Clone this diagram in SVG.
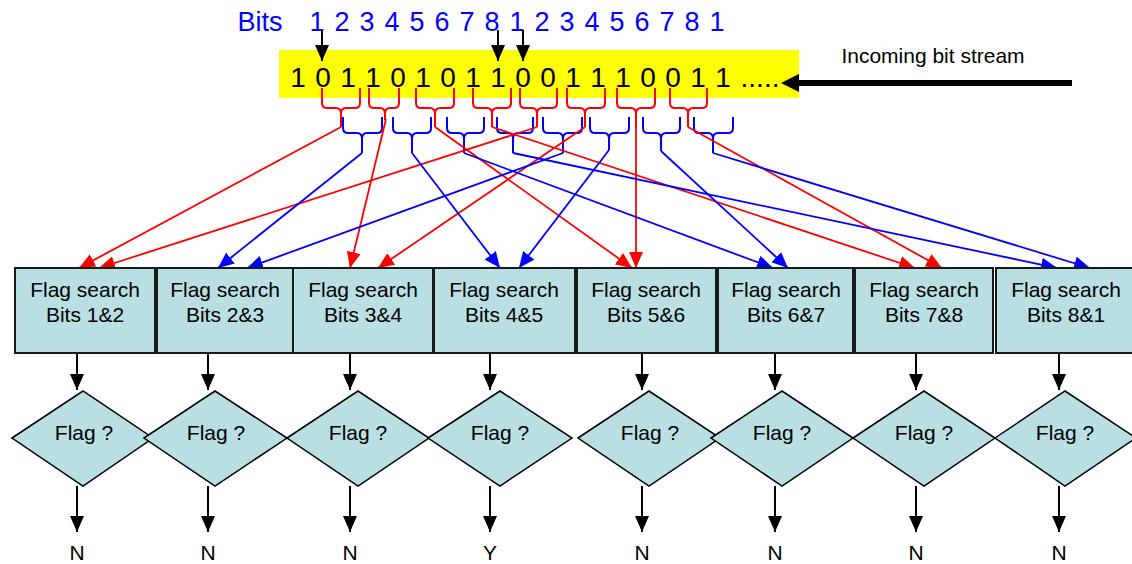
<svg xmlns="http://www.w3.org/2000/svg" width="1132" height="564" viewBox="0 0 1132 564">
<style>
.txt{font-family:"Liberation Sans",Arial,sans-serif;text-anchor:middle;fill:#000}
.bt{font-size:21px}
.dg{font-size:28px}
.lb{font-size:27px;fill:#00f}
.bx{fill:#b9dfe3;stroke:#1a1a1a;stroke-width:2}
.dm{fill:#b9dfe3;stroke:#000;stroke-width:1.5}
.rb{fill:none;stroke:#f00;stroke-width:2}
.bb{fill:none;stroke:#00f;stroke-width:2}
.rl{fill:none;stroke:#f00;stroke-width:1.8;marker-end:url(#ar)}
.bl{fill:none;stroke:#00f;stroke-width:1.8;marker-end:url(#ab)}
.kl{fill:none;stroke:#000;stroke-width:2;marker-end:url(#ak)}
</style>
<defs>
<marker id="ar" markerUnits="userSpaceOnUse" markerWidth="17" markerHeight="14" refX="16" refY="7" orient="auto"><path d="M0,0 L16,7 L0,14 z" fill="#f00"/></marker>
<marker id="ab" markerUnits="userSpaceOnUse" markerWidth="17" markerHeight="14" refX="16" refY="7" orient="auto"><path d="M0,0 L16,7 L0,14 z" fill="#00f"/></marker>
<marker id="ak" markerUnits="userSpaceOnUse" markerWidth="17" markerHeight="14" refX="16" refY="7" orient="auto"><path d="M0,0 L16,7 L0,14 z" fill="#000"/></marker>
</defs>

<g id="bitstream">
<rect x="279" y="50" width="520" height="48" fill="#ffff00"/>
<text class="txt lb" x="260" y="31">Bits</text>
<g class="txt lb">
<text x="317" y="31">1</text><text x="342" y="31">2</text><text x="367" y="31">3</text><text x="392" y="31">4</text><text x="417" y="31">5</text><text x="442" y="31">6</text><text x="467" y="31">7</text><text x="492" y="31">8</text><text x="517" y="31">1</text><text x="542" y="31">2</text><text x="567" y="31">3</text><text x="592" y="31">4</text><text x="617" y="31">5</text><text x="642" y="31">6</text><text x="667" y="31">7</text><text x="692" y="31">8</text><text x="717" y="31">1</text>
</g>
<g class="txt dg">
<text x="298" y="87">1</text><text x="323" y="87">0</text><text x="348" y="87">1</text><text x="373" y="87">1</text><text x="398" y="87">0</text><text x="423" y="87">1</text><text x="448" y="87">0</text><text x="473" y="87">1</text><text x="498" y="87">1</text><text x="523" y="87">0</text><text x="548" y="87">0</text><text x="573" y="87">1</text><text x="598" y="87">1</text><text x="623" y="87">1</text><text x="648" y="87">0</text><text x="673" y="87">0</text><text x="698" y="87">1</text><text x="723" y="87">1</text>
<text x="760" y="87">.....</text>
</g>
<line class="kl" x1="322" y1="30" x2="322" y2="61"/>
<line class="kl" x1="498" y1="30" x2="498" y2="61"/>
<line class="kl" x1="523" y1="30" x2="523" y2="61"/>
<line x1="1072" y1="83" x2="796" y2="83" stroke="#000" stroke-width="6"/>
<path d="M781,83 L799,74 L799,92 z" fill="#000"/>
<text class="txt bt" x="933" y="63">Incoming bit stream</text>
</g>

<g id="braces">
<path class="rb" d="M322,88 V103 Q322,108 327,108 H336 Q341,108 341,114 V127 M360,88 V103 Q360,108 355,108 H346 Q341,108 341,114"/>
<path class="rb" d="M369,88 V103 Q369,108 374,108 H380 Q385,108 385,114 V120 M399,88 V103 Q399,108 394,108 H390 Q385,108 385,114"/>
<path class="rb" d="M416,88 V103 Q416,108 421,108 H430 Q435,108 435,114 V127 M454,88 V103 Q454,108 449,108 H440 Q435,108 435,114"/>
<path class="rb" d="M473,88 V103 Q473,108 478,108 H487 Q492,108 492,114 V127 M511,88 V103 Q511,108 506,108 H497 Q492,108 492,114"/>
<path class="rb" d="M520,88 V103 Q520,108 525,108 H532 Q537,108 537,114 V127 M557,88 V103 Q557,108 552,108 H542 Q537,108 537,114"/>
<path class="rb" d="M567,88 V103 Q567,108 572,108 H580 Q585,108 585,114 V127 M605,88 V103 Q605,108 600,108 H590 Q585,108 585,114"/>
<path class="rb" d="M617,88 V103 Q617,108 622,108 H631 Q636,108 636,114 V127 M655,88 V103 Q655,108 650,108 H641 Q636,108 636,114"/>
<path class="rb" d="M670,88 V103 Q670,108 675,108 H683 Q688,108 688,114 V127 M707,88 V103 Q707,108 702,108 H693 Q688,108 688,114"/>
<path class="bb" d="M343,117 V128 Q343,133 348,133 H357 Q362,133 362,139 V153 M382,117 V128 Q382,133 377,133 H367 Q362,133 362,139"/>
<path class="bb" d="M393,117 V128 Q393,133 398,133 H407 Q412,133 412,139 V153 M431,117 V128 Q431,133 426,133 H417 Q412,133 412,139"/>
<path class="bb" d="M447,117 V128 Q447,133 452,133 H459 Q464,133 464,139 V153 M484,117 V128 Q484,133 479,133 H469 Q464,133 464,139"/>
<path class="bb" d="M497,117 V128 Q497,133 502,133 H508 Q513,133 513,139 V153 M533,117 V128 Q533,133 528,133 H518 Q513,133 513,139"/>
<path class="bb" d="M543,117 V128 Q543,133 548,133 H558 Q563,133 563,139 V153 M582,117 V128 Q582,133 577,133 H568 Q563,133 563,139"/>
<path class="bb" d="M590,117 V128 Q590,133 595,133 H604 Q609,133 609,139 V150 M629,117 V128 Q629,133 624,133 H614 Q609,133 609,139"/>
<path class="bb" d="M643,117 V128 Q643,133 648,133 H656 Q661,133 661,139 V151 M680,117 V128 Q680,133 675,133 H666 Q661,133 661,139"/>
<path class="bb" d="M694,117 V128 Q694,133 699,133 H708 Q713,133 713,139 V153 M733,117 V128 Q733,133 728,133 H718 Q713,133 713,139"/>
</g>

<g id="connectors">
<line class="rl" x1="341" y1="127" x2="79" y2="268"/>
<line class="rl" x1="537" y1="127" x2="99" y2="268"/>
<line class="rl" x1="386" y1="119" x2="350" y2="268"/>
<line class="rl" x1="585" y1="127" x2="378" y2="268"/>
<line class="rl" x1="435" y1="127" x2="632" y2="268"/>
<line class="rl" x1="636" y1="127" x2="636" y2="268"/>
<line class="rl" x1="492" y1="127" x2="915" y2="268"/>
<line class="rl" x1="688" y1="127" x2="942" y2="268"/>
<line class="bl" x1="362" y1="153" x2="218" y2="268"/>
<line class="bl" x1="563" y1="153" x2="247" y2="268"/>
<line class="bl" x1="412" y1="153" x2="500" y2="268"/>
<line class="bl" x1="609" y1="150" x2="519" y2="268"/>
<line class="bl" x1="464" y1="153" x2="773" y2="268"/>
<line class="bl" x1="661" y1="151" x2="788" y2="268"/>
<line class="bl" x1="513" y1="153" x2="1057" y2="268"/>
<line class="bl" x1="713" y1="153" x2="1090" y2="268"/>
<line class="kl" x1="77" y1="354" x2="77" y2="390"/>
<line class="kl" x1="208" y1="354" x2="208" y2="390"/>
<line class="kl" x1="350" y1="354" x2="350" y2="390"/>
<line class="kl" x1="490" y1="354" x2="490" y2="390"/>
<line class="kl" x1="642" y1="354" x2="642" y2="390"/>
<line class="kl" x1="775" y1="354" x2="775" y2="390"/>
<line class="kl" x1="916" y1="354" x2="916" y2="390"/>
<line class="kl" x1="1059" y1="354" x2="1059" y2="390"/>
<line class="kl" x1="77" y1="486" x2="77" y2="532"/>
<line class="kl" x1="208" y1="486" x2="208" y2="532"/>
<line class="kl" x1="350" y1="486" x2="350" y2="532"/>
<line class="kl" x1="490" y1="486" x2="490" y2="532"/>
<line class="kl" x1="642" y1="486" x2="642" y2="532"/>
<line class="kl" x1="775" y1="486" x2="775" y2="532"/>
<line class="kl" x1="916" y1="486" x2="916" y2="532"/>
<line class="kl" x1="1059" y1="486" x2="1059" y2="532"/>
</g>

<g id="box1"><rect class="bx" x="15" y="268" width="140" height="85"/><text class="txt bt" x="85" y="297">Flag search</text><text class="txt bt" x="85" y="322">Bits 1&amp;2</text></g>
<g id="box2"><rect class="bx" x="157" y="268" width="136" height="85"/><text class="txt bt" x="225" y="297">Flag search</text><text class="txt bt" x="225" y="322">Bits 2&amp;3</text></g>
<g id="box3"><rect class="bx" x="293" y="268" width="140" height="85"/><text class="txt bt" x="363" y="297">Flag search</text><text class="txt bt" x="363" y="322">Bits 3&amp;4</text></g>
<g id="box4"><rect class="bx" x="434" y="268" width="141" height="85"/><text class="txt bt" x="504" y="297">Flag search</text><text class="txt bt" x="504" y="322">Bits 4&amp;5</text></g>
<g id="box5"><rect class="bx" x="577" y="268" width="139" height="85"/><text class="txt bt" x="646" y="297">Flag search</text><text class="txt bt" x="646" y="322">Bits 5&amp;6</text></g>
<g id="box6"><rect class="bx" x="718" y="268" width="135" height="85"/><text class="txt bt" x="786" y="297">Flag search</text><text class="txt bt" x="786" y="322">Bits 6&amp;7</text></g>
<g id="box7"><rect class="bx" x="855" y="268" width="138" height="85"/><text class="txt bt" x="924" y="297">Flag search</text><text class="txt bt" x="924" y="322">Bits 7&amp;8</text></g>
<g id="box8"><rect class="bx" x="996" y="268" width="140" height="85"/><text class="txt bt" x="1066" y="297">Flag search</text><text class="txt bt" x="1066" y="322">Bits 8&amp;1</text></g>

<g id="dec1"><polygon class="dm" points="12,438 83,391 153,438 83,486"/><text class="txt bt" x="84" y="440">Flag ?</text></g>
<g id="dec2"><polygon class="dm" points="144,438 215,391 287,438 215,486"/><text class="txt bt" x="216" y="440">Flag ?</text></g>
<g id="dec3"><polygon class="dm" points="287,438 358,391 429,438 358,486"/><text class="txt bt" x="358" y="440">Flag ?</text></g>
<g id="dec4"><polygon class="dm" points="428,438 500,391 572,438 500,486"/><text class="txt bt" x="500" y="440">Flag ?</text></g>
<g id="dec5"><polygon class="dm" points="578,438 649,391 720,438 649,486"/><text class="txt bt" x="650" y="440">Flag ?</text></g>
<g id="dec6"><polygon class="dm" points="711,438 782,391 853,438 782,486"/><text class="txt bt" x="782" y="440">Flag ?</text></g>
<g id="dec7"><polygon class="dm" points="853,438 924,391 995,438 924,486"/><text class="txt bt" x="924" y="440">Flag ?</text></g>
<g id="dec8"><polygon class="dm" points="995,438 1065,391 1136,438 1065,486"/><text class="txt bt" x="1065" y="440">Flag ?</text></g>

<g id="results" class="txt bt">
<text x="77" y="560">N</text><text x="208" y="560">N</text><text x="350" y="560">N</text><text x="490" y="560">Y</text><text x="642" y="560">N</text><text x="775" y="560">N</text><text x="916" y="560">N</text><text x="1059" y="560">N</text>
</g>
</svg>
